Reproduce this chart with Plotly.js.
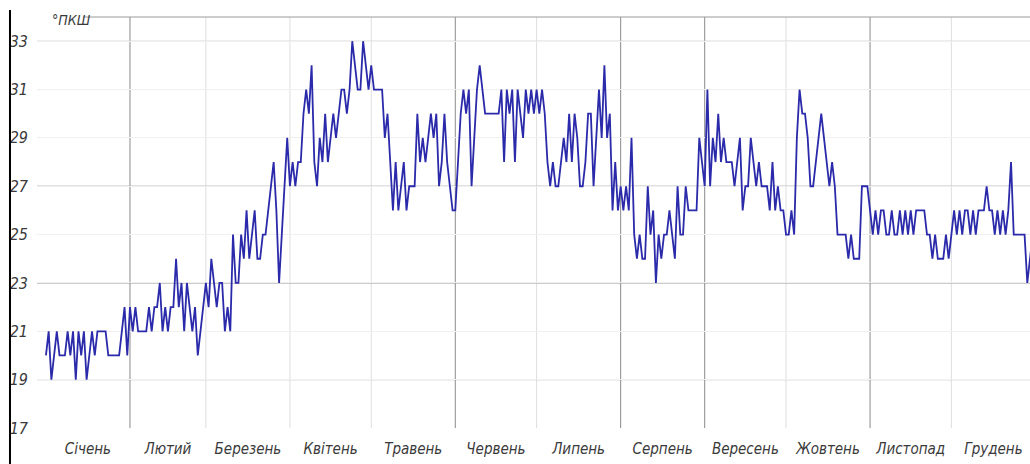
<!DOCTYPE html>
<html>
<head>
<meta charset="utf-8">
<script src="https://cdn.plot.ly/plotly-3.0.1.min.js"></script>
<style>html,body{margin:0;padding:0;background:#fff;}#chart{width:1030px;height:464px;}</style>
</head>
<body>
<div id="chart"></div>
<script>
// Month names (x tick labels) and month lengths
const months = ['Січень','Лютий','Березень','Квітень','Травень','Червень','Липень','Серпень','Вересень','Жовтень','Листопад','Грудень'];
const monthDays = [31,28,31,30,31,30,31,31,30,31,30,31];

// Daily values, °ПКШ (one array per month)
const jan = [20,21,19,20,21,20,20,20,21,20,21,19,21,20,21,19,20,21,20,21,21,21,21,20,20,20,20,20,21,22,20];
const feb = [22,21,22,21,21,21,21,22,21,22,22,23,21,22,21,22,22,24,22,23,21,23,22,21,22,20,21,22];
const mar = [23,22,24,23,22,23,23,21,22,21,25,23,23,25,24,26,24,25,26,24,24,25,25,26,27,28,26,23,25,27,29];
const apr = [27,28,27,28,28,30,31,30,32,28,27,29,28,30,28,29,30,29,30,31,31,30,31,33,32,31,31,33,32,31];
const may = [32,31,31,31,31,29,30,28,26,28,26,27,28,26,27,27,27,30,28,29,28,29,30,29,30,27,28,30,28,27,26];
const jun = [26,28,30,31,30,31,27,29,31,32,31,30,30,30,30,30,30,31,28,31,30,31,28,31,30,29,31,30,31,30];
const jul = [31,30,31,30,28,27,28,27,27,28,29,28,30,28,30,29,27,27,28,30,30,27,29,31,29,32,29,30,26,28,26];
const aug = [27,26,27,26,29,25,24,25,24,24,27,25,26,23,25,24,25,25,26,25,24,27,25,25,27,26,26,26,26,29,28];
const sep = [27,31,27,29,28,30,28,29,28,28,28,27,28,29,26,27,27,29,28,27,28,27,27,27,26,28,26,27,26,26];
const oct = [25,25,26,25,29,31,30,30,29,27,27,28,29,30,29,28,27,28,27,25,25,25,25,24,25,24,24,24,27,27,27];
const nov = [26,25,26,25,26,26,25,25,26,25,25,26,25,26,25,26,25,26,26,26,26,25,25,24,25,24,24,24,25,24];
const dec = [25,26,25,26,25,26,26,25,26,25,26,26,26,27,26,26,25,26,25,26,25,26,28,25,25,25,25,25,23,24,25];

// Y tick labels
const yTicks = [17,19,21,23,25,27,29,31,33];

// ---- build from data ----
const monthly = [jan,feb,mar,apr,may,jun,jul,aug,sep,oct,nov,dec];
const values = [].concat(...monthly);
const days = values.map((v,i)=>i);
const starts = [];
let acc = 0;
monthDays.forEach(d=>{ starts.push(acc); acc += d; });
const mids = starts.map((s,i)=>s + monthDays[i]/2);

const FONT = "'DejaVu Sans Condensed','Liberation Sans Narrow','Roboto Condensed','Open Sans',sans-serif";
const TXT = '#3a3a3a';

// styling of month boundary lines (dark/light) and of horizontal grid lines
const darkMonthLines = ['Лютий','Червень','Серпень','Вересень','Листопад'];
const strongGrid = [19,23,27,31];
const lightGrid = [33];

const shapes = [];
starts.slice(1).forEach((s,i)=>{
  const dark = darkMonthLines.includes(months[i+1]);
  shapes.push({type:'line', xref:'x', yref:'paper', x0:s, x1:s, y0:0, y1:1,
    line:{color: dark ? '#8a8a8a' : '#dedede', width:1}, layer:'below'});
});
strongGrid.forEach(v=>shapes.push({type:'line', xref:'paper', yref:'y', x0:0, x1:1, y0:v, y1:v,
  line:{color:'#8c8c8c', width:1}, layer:'below'}));
lightGrid.forEach(v=>shapes.push({type:'line', xref:'paper', yref:'y', x0:0, x1:1, y0:v, y1:v,
  line:{color:'#c8c8c8', width:1}, layer:'below'}));
// top border line and left black axis line
shapes.push({type:'line', xref:'paper', yref:'paper', x0:0.046, x1:1, y0:1, y1:1, line:{color:'#9a9a9a', width:1}});
shapes.push({type:'line', xref:'paper', yref:'paper', x0:-0.0272, x1:-0.0272, y0:-0.09, y1:1.017, line:{color:'#000', width:2}});

const trace = {
  x: days, y: values, type:'scatter', mode:'lines',
  line:{color:'#2a2aaa', width:1.8},
  hoverinfo:'x+y'
};

const layout = {
  width:1030, height:464,
  margin:{l:37, r:0, t:17, b:36, pad:0},
  paper_bgcolor:'#fff', plot_bgcolor:'#fff',
  showlegend:false,
  xaxis:{
    range:[-3.3, 363], tickmode:'array', tickvals:mids, ticktext:months,
    showgrid:false, zeroline:false, showline:false, ticks:'',
    tickfont:{family:FONT, size:15, color:TXT, style:'italic'},
    ticklabelstandoff:10
  },
  yaxis:{
    range:[17, 34], tickmode:'array', tickvals:yTicks, ticktext:yTicks.map(String),
    showgrid:true, gridcolor:'#f0f0f0', zeroline:false, showline:false, ticks:'',
    tickfont:{family:FONT, size:16, color:TXT, style:'italic'},
    ticklabelstandoff:8
  },
  shapes: shapes,
  annotations:[{
    text:'°ПКШ', xref:'paper', yref:'paper', x:0.013, y:0.993, xanchor:'left', yanchor:'middle',
    showarrow:false, font:{family:FONT, size:14, color:TXT, style:'italic'}
  }]
};

Plotly.newPlot('chart', [trace], layout, {staticPlot:true, displayModeBar:false});
</script>
</body>
</html>
